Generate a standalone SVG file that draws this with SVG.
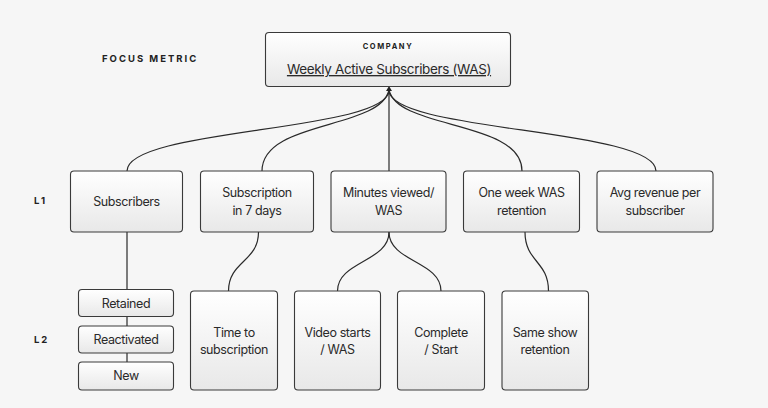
<svg xmlns="http://www.w3.org/2000/svg" width="768" height="408" viewBox="0 0 768 408">
<defs>
<linearGradient id="g" x1="0" y1="0" x2="0" y2="1">
<stop offset="0" stop-color="#ffffff"/>
<stop offset="1" stop-color="#e8e8e8"/>
</linearGradient>
</defs>
<style>
.box{fill:url(#g);stroke:#3a3a3a;stroke-width:1.1}
.t{font-family:Inter,"Liberation Sans",sans-serif;font-size:12.5px;letter-spacing:-0.4px;fill:#2a2a2a;text-anchor:middle}
.title{font-size:13.5px;letter-spacing:-0.35px;text-decoration:underline}
.lab{font-family:Inter,"Liberation Sans",sans-serif;font-weight:700;fill:#222}
.c{fill:none;stroke:#2a2a2a;stroke-width:1.2}
</style>
<rect width="768" height="408" fill="#f6f6f6"/>

<text class="lab" x="102" y="61.5" font-size="9.5" letter-spacing="2">FOCUS METRIC</text>
<text class="lab" x="34" y="204" font-size="9.5" letter-spacing="2">L1</text>
<text class="lab" x="34" y="343" font-size="9.5" letter-spacing="2">L2</text>

<g id="connectors">
<path class="c" d="M389,90 C389,132 127,128 127,171"/>
<path class="c" d="M389,90 C380,130 262,120 262,171"/>
<path class="c" d="M389,90 L389,171"/>
<path class="c" d="M389,90 C398,130 522,120 522,171"/>
<path class="c" d="M389,90 C389,132 656,128 656,171"/>
<path d="M386,91 L389,86 L392,91 Z" fill="#222"/>
<path class="c" d="M127,232 L127,290 M127,316 L127,326 M127,353 L127,362"/>
<path class="c" d="M258.5,232 C258.5,262 228.5,261 228.5,291"/>
<path class="c" d="M389,232 C389,262 337.5,261 337.5,291"/>
<path class="c" d="M389,232 C389,262 441,261 441,291"/>
<path class="c" d="M525,232 C525,262 548.5,261 548.5,291"/>
</g>

<g id="company">
<rect class="box" x="265.5" y="32.5" width="245" height="54" rx="3.5"/>
<text class="lab" x="388" y="48.5" font-size="7.5" letter-spacing="1.6" text-anchor="middle">COMPANY</text>
<text class="t title" x="389" y="74">Weekly Active Subscribers (WAS)</text>
</g>

<g id="subscribers">
<rect class="box" x="70.5" y="171" width="112" height="61" rx="3.5"/>
<text class="t" x="126.5" y="206">Subscribers</text>
</g>
<g id="subscription7">
<rect class="box" x="200.5" y="171" width="113" height="61" rx="3.5"/>
<text class="t" x="257" y="197">Subscription</text>
<text class="t" x="257" y="214.5">in 7 days</text>
</g>
<g id="minutes">
<rect class="box" x="331" y="171" width="115" height="61" rx="3.5"/>
<text class="t" x="388.5" y="197">Minutes viewed/</text>
<text class="t" x="388.5" y="214.5">WAS</text>
</g>
<g id="oneweek">
<rect class="box" x="463.5" y="171" width="116" height="61" rx="3.5"/>
<text class="t" x="521.5" y="197">One week WAS</text>
<text class="t" x="521.5" y="214.5">retention</text>
</g>
<g id="avgrev">
<rect class="box" x="597" y="171" width="116" height="61" rx="3.5"/>
<text class="t" x="655" y="197">Avg revenue per</text>
<text class="t" x="655" y="214.5">subscriber</text>
</g>

<g id="retained">
<rect class="box" x="78.5" y="289.5" width="95" height="27" rx="3.5"/>
<text class="t" x="126" y="307.5">Retained</text>
</g>
<g id="reactivated">
<rect class="box" x="78.5" y="326" width="95" height="27" rx="3.5"/>
<text class="t" x="126" y="343.5">Reactivated</text>
</g>
<g id="new">
<rect class="box" x="78.5" y="362" width="95" height="28" rx="3.5"/>
<text class="t" x="126" y="380">New</text>
</g>

<g id="timetosub">
<rect class="box" x="190.5" y="291" width="87" height="99" rx="3.5"/>
<text class="t" x="234" y="337">Time to</text>
<text class="t" x="234" y="354">subscription</text>
</g>
<g id="videostarts">
<rect class="box" x="294.5" y="291" width="86" height="99" rx="3.5"/>
<text class="t" x="337.5" y="337">Video starts</text>
<text class="t" x="337.5" y="354">/ WAS</text>
</g>
<g id="complete">
<rect class="box" x="397.5" y="291" width="87" height="99" rx="3.5"/>
<text class="t" x="441" y="337">Complete</text>
<text class="t" x="441" y="354">/ Start</text>
</g>
<g id="sameshow">
<rect class="box" x="502" y="291" width="86.5" height="99" rx="3.5"/>
<text class="t" x="545" y="337">Same show</text>
<text class="t" x="545" y="354">retention</text>
</g>
</svg>
